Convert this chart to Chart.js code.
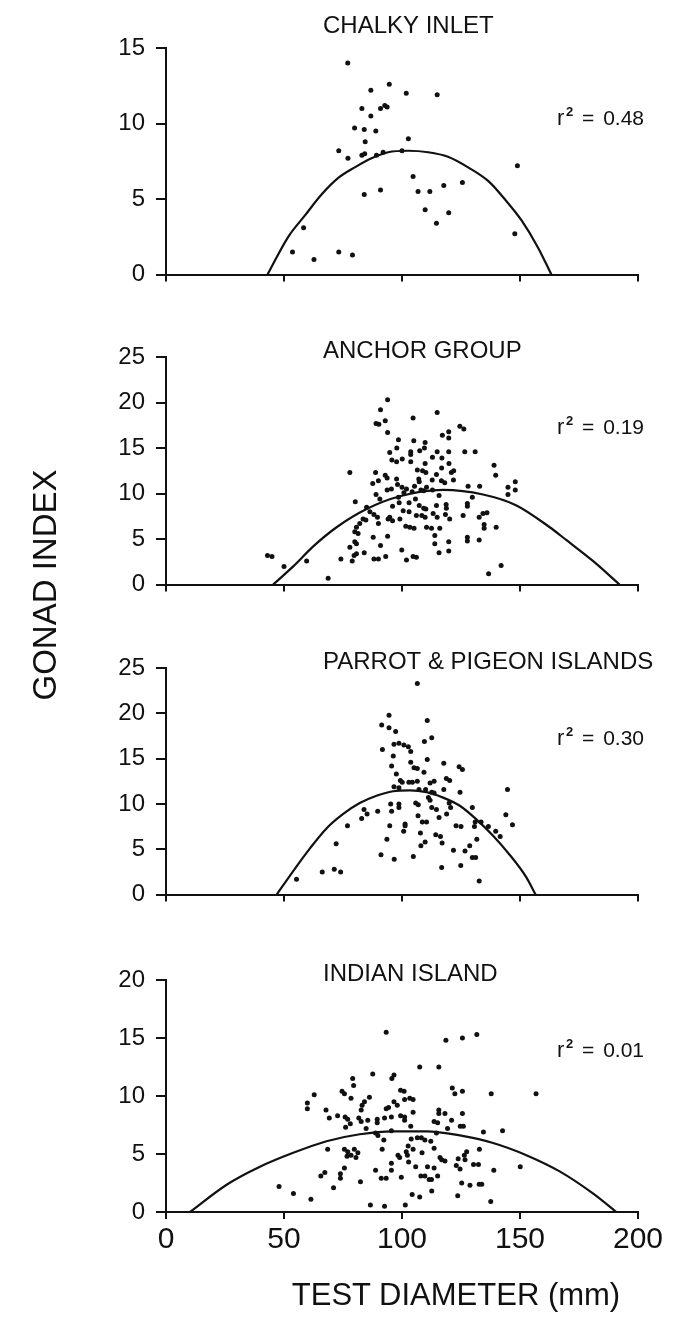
<!DOCTYPE html>
<html>
<head>
<meta charset="utf-8">
<script src="https://cdn.jsdelivr.net/npm/chart.js@4.4.1/dist/chart.umd.min.js"></script>
<style>
  body { margin: 0; background: #fff; }
  #page { position: relative; width: 685px; height: 1344px; overflow: hidden; background: #fff; }
  #page canvas { position: absolute; left: 0; }
  .axisTitle { position: absolute; font-family: "Liberation Sans", Arial, sans-serif; color: #111; white-space: nowrap; text-align: center; }
  #yTitle { left: -75px; top: 567px; width: 240px; height: 36px; line-height: 36px; font-size: 33px; transform: rotate(-90deg); }
  #xTitle { left: 256px; top: 1279px; width: 400px; line-height: 31px; font-size: 31px; }
</style>
</head>
<body>
<div id="page">
  <canvas id="p1" width="685" height="300" style="top:0px"></canvas>
  <canvas id="p2" width="685" height="310" style="top:300px"></canvas>
  <canvas id="p3" width="685" height="310" style="top:610px"></canvas>
  <canvas id="p4" width="685" height="424" style="top:920px"></canvas>
  <div class="axisTitle" id="yTitle">GONAD INDEX</div>
  <div class="axisTitle" id="xTitle">TEST DIAMETER (mm)</div>
</div>
<script>
// panel labels and axis ranges
const panelTitles = ['CHALKY INLET', 'ANCHOR GROUP', 'PARROT & PIGEON ISLANDS', 'INDIAN ISLAND'];
const r2Values = ['0.48', '0.19', '0.30', '0.01'];
const yMaxes = [15, 25, 25, 20];
const xMin = 0, xMax = 200, xStep = 50, yStep = 5;

// scatter points [test diameter mm, gonad index]
const chalkyPoints = [
  [77, 14.0], [94.6, 12.6], [86.8, 12.2], [101.8, 12.0], [114.9, 11.9], [92.7, 11.2], [93.7, 11.1],
  [83, 11.0], [90.9, 11.0], [86.8, 10.5], [79.9, 9.7], [84, 9.6], [88.9, 9.5], [102.7, 9.0],
  [84.4, 8.8], [73.2, 8.2], [77.1, 7.7], [83, 7.9], [84.2, 8.0], [89.2, 7.9], [92, 8.1], [100, 8.2],
  [148.9, 7.2], [104.7, 6.5], [125.6, 6.1], [117.7, 5.9], [106.8, 5.5], [111.8, 5.5], [90.9, 5.6],
  [84, 5.3], [109.8, 4.3], [119.8, 4.1], [114.6, 3.4], [58.3, 3.1], [147.8, 2.7], [53.6, 1.5],
  [73.2, 1.5], [79, 1.3], [62.7, 1.0]
];
const anchorPoints = [
  [93.9, 20.3], [90.9, 19.2], [114.9, 18.9], [92.9, 18.0], [89.0, 17.7], [90.2, 17.6], [104.7, 18.3],
  [124.5, 17.4], [126.2, 17.1], [93.9, 16.7], [117.1, 16.4], [119.8, 16.8], [119.8, 16.1], [105.0, 15.8],
  [109.8, 15.6], [98.5, 15.9], [97.8, 15.0], [94.8, 14.5], [103.7, 14.6], [103.7, 14.3], [107.5, 14.7],
  [109.5, 15.0], [114.9, 14.6], [119.8, 14.6], [126.6, 14.6], [131.0, 14.6], [112.9, 14.0], [95.7, 13.7],
  [97.7, 13.5], [100.1, 13.8], [103.7, 13.5], [116.9, 13.9], [119.9, 13.3], [139.0, 13.1], [77.9, 12.3],
  [88.8, 12.3], [109.8, 13.3], [106.5, 12.6], [108.7, 12.5], [110.1, 12.3], [116.8, 12.8], [114.6, 12.1],
  [121.9, 12.5], [120.9, 12.3], [139.7, 12.0], [92.9, 12.0], [93.7, 11.7], [97.7, 11.6], [90.0, 11.4],
  [87.6, 11.1], [107.1, 11.6], [107.3, 11.3], [112.8, 11.5], [116.7, 11.4], [118.1, 11.2], [121.8, 11.5],
  [98.1, 11.0], [100.0, 10.7], [101.9, 10.5], [93.7, 10.4], [95.5, 10.5], [105.3, 10.8], [110.4, 10.7],
  [128.0, 10.8], [132.9, 10.8], [148.0, 11.3], [144.9, 10.7], [148.0, 10.4], [144.9, 9.9], [89.0, 9.9],
  [100.8, 10.1], [104.3, 10.2], [108.0, 10.4], [109.2, 10.3], [112.9, 10.4], [115.7, 9.8], [129.8, 9.6],
  [90.6, 9.4], [80.2, 9.1], [98.5, 9.6], [98.8, 9.0], [103.0, 9.0], [105.7, 9.4], [107.3, 8.7],
  [109.2, 8.4], [110.1, 8.3], [114.6, 8.7], [118.7, 8.8], [118.8, 8.4], [127.7, 8.9], [127.7, 8.6],
  [85.0, 8.5], [86.4, 8.0], [88.1, 7.7], [89.6, 7.4], [96.0, 8.6], [100.5, 8.1], [103.0, 8.0],
  [106.1, 7.6], [108.4, 7.6], [109.8, 7.4], [113.2, 7.8], [114.9, 7.4], [118.4, 7.7], [125.9, 7.6],
  [132.7, 7.4], [134.3, 7.8], [136.0, 7.9], [83.5, 7.2], [84.7, 7.1], [94.8, 7.4], [94.1, 7.2],
  [96.0, 7.0], [99.1, 7.2], [120.2, 7.2], [90.0, 6.7], [82.1, 6.7], [80.7, 6.3], [101.6, 6.4],
  [103.3, 6.3], [105.1, 6.2], [110.4, 6.3], [112.5, 6.2], [116.0, 6.2], [134.8, 6.6], [134.8, 6.2],
  [139.9, 6.3], [80.0, 5.8], [81.4, 5.6], [113.9, 5.4], [93.9, 5.3], [87.8, 5.2], [127.7, 5.2],
  [127.7, 4.8], [132.7, 4.9], [80.0, 4.7], [80.7, 4.5], [113.9, 4.5], [119.8, 4.7], [77.9, 4.1],
  [90.9, 4.3], [80.7, 3.4], [79.7, 3.2], [84.0, 3.5], [115.7, 3.5], [119.8, 3.7], [99.9, 3.8],
  [43.0, 3.2], [44.9, 3.1], [50.0, 2.0], [59.6, 2.6], [74.1, 2.8], [78.9, 2.6], [88.1, 2.8],
  [90.0, 2.8], [93.1, 3.1], [101.9, 2.7], [104.7, 3.1], [106.1, 3.0], [68.7, 0.7], [136.7, 1.2],
  [142.0, 2.1]
];
const parrotPoints = [
  [106.5, 23.3], [94.5, 19.8], [110.7, 19.2], [91.4, 18.7], [94.5, 18.4], [97.3, 18.0], [112.6, 17.3],
  [109.5, 16.9], [96.6, 16.6], [98.7, 16.7], [100.8, 16.5], [102.7, 16.3], [91.7, 16.0], [103.7, 15.8],
  [96.3, 15.3], [110.7, 14.9], [103.7, 14.6], [105.1, 14.0], [106.5, 13.9], [117.7, 14.5], [95.6, 14.2],
  [124.2, 14.1], [125.6, 13.8], [109.3, 13.5], [97.6, 13.3], [118.8, 12.8], [120.2, 12.6], [99.3, 12.6],
  [100.1, 12.4], [113.6, 12.5], [111.9, 12.3], [102.9, 12.4], [104.4, 12.4], [106.5, 12.5], [107.2, 11.6],
  [110.0, 11.6], [96.6, 11.9], [98.7, 11.8], [112.6, 11.3], [113.6, 11.2], [117.7, 11.6], [124.6, 11.3],
  [144.7, 11.6], [111.2, 10.7], [111.9, 10.4], [105.8, 10.1], [106.9, 9.9], [95.2, 10.0], [98.7, 10.0],
  [120.0, 10.1], [98.7, 9.6], [112.6, 9.6], [114.6, 9.4], [120.6, 9.6], [129.8, 9.6], [83.9, 9.4],
  [85.2, 8.9], [89.7, 9.2], [95.6, 9.2], [82.9, 8.4], [106.8, 8.7], [118.9, 8.9], [115.7, 8.5],
  [108.6, 8.0], [110.4, 8.0], [144.0, 8.8], [131.0, 8.0], [133.5, 8.0], [76.9, 7.6], [94.8, 7.6],
  [101.3, 7.8], [101.3, 7.6], [122.9, 7.6], [125.0, 7.5], [130.7, 7.5], [136.6, 7.5], [146.8, 7.7],
  [100.7, 7.0], [107.8, 6.8], [139.7, 7.0], [141.6, 6.4], [114.3, 6.6], [116.3, 6.4], [117.0, 5.7],
  [93.6, 6.1], [131.7, 6.1], [128.7, 5.4], [72.1, 5.6], [109.8, 5.8], [108.0, 5.4], [121.8, 4.9],
  [126.7, 4.8], [91.1, 4.4], [104.8, 4.2], [96.7, 3.9], [129.8, 4.1], [131.2, 4.1], [116.8, 3.0],
  [124.9, 3.2], [71.3, 2.8], [74.0, 2.5], [66.2, 2.5], [132.7, 1.5], [55.3, 1.7]
];
const indianPoints = [
  [93.3, 15.5], [131.7, 15.3], [125.6, 15.0], [118.6, 14.8], [107.5, 12.5], [115.6, 12.5], [87.6, 11.9],
  [96.6, 11.8], [95.7, 11.5], [79.1, 11.5], [79.5, 10.9], [121.3, 10.7], [122.4, 10.2], [125.6, 10.4],
  [137.8, 10.2], [156.8, 10.2], [62.8, 10.1], [74.6, 10.4], [75.6, 10.2], [99.4, 10.5], [100.9, 10.4],
  [101.1, 9.7], [103.3, 9.8], [104.7, 9.7], [86.2, 9.9], [78.4, 9.8], [84.1, 9.5], [83.1, 9.2],
  [59.9, 9.4], [59.9, 8.9], [96.6, 9.5], [98.0, 9.2], [93.3, 8.9], [94.3, 9.0], [67.8, 8.8],
  [82.7, 8.8], [104.7, 8.6], [115.6, 8.8], [115.6, 8.5], [118.2, 8.5], [125.6, 8.5], [69.2, 8.1],
  [72.7, 8.3], [75.9, 8.2], [77.0, 8.0], [78.1, 7.6], [81.7, 8.1], [82.7, 7.8], [85.5, 7.9],
  [89.5, 8.0], [89.5, 7.7], [92.6, 8.1], [95.5, 8.2], [99.4, 8.3], [101.1, 8.2], [101.1, 7.9],
  [113.6, 7.8], [115.1, 7.7], [121.0, 7.9], [119.3, 7.2], [124.7, 7.4], [126.0, 7.4], [76.1, 7.3],
  [103.7, 7.4], [134.5, 6.9], [142.6, 7.0], [84.8, 7.2], [88.8, 6.8], [89.8, 6.6], [92.3, 6.2],
  [95.5, 7.0], [103.9, 6.3], [106.5, 6.4], [108.2, 6.4], [109.7, 6.2], [112.2, 6.1], [113.6, 5.5],
  [114.6, 6.8], [102.6, 5.7], [68.5, 5.4], [75.6, 5.4], [77.0, 5.2], [79.8, 5.4], [81.3, 5.1],
  [76.7, 4.8], [78.4, 4.9], [80.5, 4.7], [91.6, 5.4], [98.3, 4.9], [99.0, 4.7], [101.8, 5.2],
  [102.3, 4.9], [104.7, 5.4], [108.5, 5.1], [127.4, 5.2], [126.4, 4.9], [132.8, 5.4], [123.8, 4.6],
  [116.1, 4.7], [116.8, 4.5], [118.2, 4.4], [102.8, 4.3], [105.8, 3.9], [110.8, 3.9], [113.6, 3.8],
  [95.5, 4.2], [95.5, 3.6], [88.8, 3.6], [75.6, 3.8], [65.6, 3.1], [67.3, 3.4], [73.9, 2.9],
  [73.9, 3.3], [123.0, 4.0], [124.6, 3.7], [126.7, 4.5], [130.3, 4.1], [132.4, 4.1], [138.9, 3.6],
  [150.1, 3.9], [91.2, 2.9], [93.3, 2.9], [99.7, 3.0], [108.0, 3.1], [109.7, 3.1], [111.5, 2.8],
  [112.5, 2.8], [115.1, 3.1], [125.3, 2.5], [128.8, 2.3], [132.7, 2.4], [133.8, 2.4], [47.9, 2.2],
  [54.0, 1.6], [61.4, 1.1], [71.0, 2.1], [82.4, 2.6], [104.3, 1.5], [107.5, 1.3], [112.6, 1.8],
  [123.6, 1.4], [86.6, 0.6], [92.6, 0.5], [101.4, 0.6], [137.6, 0.9]
];

// fitted curves, points
const chalkyCurve = [
  [43, 0], [51.8, 2.5], [58.8, 3.9], [65.9, 5.3], [73, 6.4], [80, 7.1], [87.1, 7.7], [94.1, 8.1],
  [102.6, 8.2], [111.1, 8.1], [119.5, 7.8], [128, 7.1], [136.5, 6.2], [143.5, 5.0], [150.6, 3.6],
  [157.6, 1.8], [163.3, 0]
];
const anchorCurve = [
  [45.4, 0], [53.9, 2.0], [62.4, 4.2], [72.3, 6.3], [85, 8.3], [99.1, 9.7], [117.4, 10.4],
  [134.3, 9.9], [148.5, 8.7], [162.6, 6.3], [169.6, 4.9], [180.9, 2.6], [192.2, 0]
];
const parrotCurve = [
  [46.9, 0], [53.9, 2.6], [61.0, 5.1], [68.0, 7.3], [75.1, 8.9], [82.1, 10.1], [89.2, 10.9],
  [96.2, 11.4], [103.3, 11.5], [110.4, 11.3], [117.4, 10.7], [124.5, 9.8], [131.5, 8.3],
  [138.6, 6.5], [145.6, 4.4], [152.7, 1.9], [156.6, 0]
];
const indianCurve = [
  [10.2, 0], [25.7, 2.35], [39.8, 3.9], [53.9, 5.1], [68, 6.1], [82.1, 6.7], [96.2, 6.95],
  [110.4, 6.95], [124.5, 6.6], [138.6, 5.95], [152.7, 4.9], [166.8, 3.5], [180.9, 1.6], [190.8, 0]
];

const FONT = '"Liberation Sans", Arial, Helvetica, sans-serif';
const INK = '#111';

// panel title and r^2 label, drawn relative to the plot area
const panelText = {
  id: 'panelText',
  afterDraw(chart, args, opts) {
    const { ctx, chartArea } = chart;
    ctx.save();
    ctx.fillStyle = INK;
    ctx.textBaseline = 'alphabetic';
    ctx.textAlign = 'left';
    ctx.font = `24px ${FONT}`;
    ctx.fillText(opts.title, 323, chartArea.top + opts.titleDy);

    const base = chartArea.top + 77;
    ctx.font = `22px ${FONT}`;
    ctx.fillText('r', 557, base);
    ctx.font = `bold 13px ${FONT}`;
    ctx.fillText('2', 566, base - 9);
    ctx.font = `21px ${FONT}`;
    ctx.fillText('=', 582, base);
    ctx.textAlign = 'right';
    ctx.fillText(opts.r2, 644, base);
    ctx.restore();
  }
};

function makePanel(id, idx, points, curve, layout) {
  const ctx = document.getElementById(id).getContext('2d');
  return new Chart(ctx, {
    type: 'scatter',
    data: {
      datasets: [
        {
          data: points.map(p => ({ x: p[0], y: p[1] })),
          pointRadius: 2.5,
          pointBackgroundColor: INK,
          pointBorderWidth: 0
        },
        {
          data: curve.map(p => ({ x: p[0], y: p[1] })),
          showLine: true,
          borderColor: INK,
          borderWidth: 2.2,
          pointRadius: 0,
          fill: false,
          cubicInterpolationMode: 'monotone'
        }
      ]
    },
    options: {
      responsive: false,
      animation: false,
      events: [],
      layout: { padding: { top: layout.top, right: 47, left: 0, bottom: 0 } },
      scales: {
        x: {
          type: 'linear', min: xMin, max: xMax,
          border: { color: INK, width: 2 },
          grid: { drawOnChartArea: false, drawTicks: true, tickLength: 7, color: INK, lineWidth: 2 },
          ticks: {
            stepSize: xStep, display: layout.showX, color: INK, padding: 3,
            maxRotation: 0, font: { size: 30, family: FONT }
          },
          afterFit: s => { s.height = layout.xh; }
        },
        y: {
          min: 0, max: yMaxes[idx],
          border: { color: INK, width: 2 },
          grid: { drawOnChartArea: false, drawTicks: true, tickLength: 10, color: INK, lineWidth: 2 },
          ticks: { stepSize: yStep, color: INK, padding: 11, font: { size: 24, family: FONT } },
          afterFit: s => { s.width = 166; }
        }
      },
      plugins: {
        legend: { display: false },
        tooltip: { enabled: false },
        panelText: { title: panelTitles[idx], r2: r2Values[idx], titleDy: layout.titleDy }
      }
    },
    plugins: [panelText]
  });
}

makePanel('p1', 0, chalkyPoints, chalkyCurve, { top: 48, xh: 22, titleDy: -15, showX: false });
makePanel('p2', 1, anchorPoints, anchorCurve, { top: 57, xh: 21, titleDy: 1, showX: false });
makePanel('p3', 2, parrotPoints, parrotCurve, { top: 58, xh: 19, titleDy: 1, showX: false });
makePanel('p4', 3, indianPoints, indianCurve, { top: 60, xh: 132, titleDy: 1, showX: true });
</script>
</body>
</html>
